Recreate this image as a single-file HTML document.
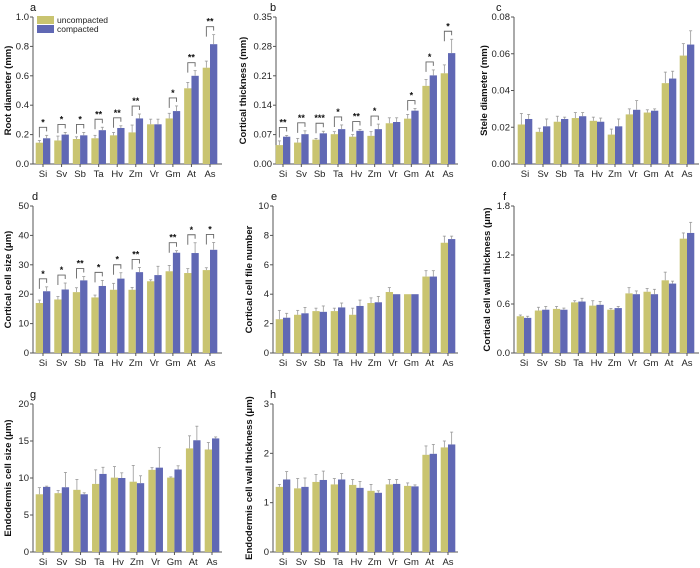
<!DOCTYPE html>
<html><head><meta charset="utf-8"><style>
html,body{margin:0;padding:0;background:#fff;}
svg{display:block;font-family:"Liberation Sans",sans-serif;}
</style></head><body>
<svg id="fig" width="700" height="568" viewBox="0 0 700 568" xmlns="http://www.w3.org/2000/svg"></svg>
<script>
const categories = ["Si","Sv","Sb","Ta","Hv","Zm","Vr","Gm","At","As"];

const aUnc = [.145,.16,.17,.175,.195,.215,.27,.31,.515,.655];
const aComp = [.175,.2,.195,.23,.245,.31,.27,.36,.6,.815];
const aUncErr = [.015,.03,.015,.02,.02,.05,.035,.035,.04,.045];
const aCompErr = [.02,.015,.02,.02,.015,.03,.035,.035,.035,.065];
const aSig = ["*","*","*","**","**","**","","*","**","**"];
const aTicks = ["0.0","0.2","0.4","0.6","0.8","1.0"];

const bUnc = [.045,.051,.058,.071,.065,.067,.097,.108,.186,.216];
const bComp = [.065,.071,.073,.083,.079,.083,.1,.127,.211,.264];
const bUncErr = [.01,.01,.003,.006,.005,.01,.013,.01,.015,.02];
const bCompErr = [.003,.008,.005,.01,.003,.012,.01,.005,.013,.033];
const bSig = ["**","**","***","*","**","*","","*","*","*"];
const bTicks = ["0.00","0.07","0.14","0.21","0.28","0.35"];

const cUnc = [.0215,.0175,.023,.025,.0235,.016,.027,.028,.044,.059];
const cComp = [.0245,.0205,.0245,.026,.023,.0205,.0295,.029,.0465,.065];
const cUncErr = [.006,.002,.003,.003,.002,.003,.003,.0015,.006,.0065];
const cCompErr = [.0025,.004,.001,.002,.002,.004,.005,.001,.004,.0075];
const cSig = ["","","","","","","","","",""];
const cTicks = ["0.00","0.02","0.04","0.06","0.08"];

const dUnc = [17,18.2,20.7,18.9,21.5,21.5,24.4,27.8,27.2,28.2];
const dComp = [21,21.6,24.7,22.8,25.3,27.5,26.5,34.1,34,35.1];
const dUncErr = [1,1,1.5,.8,2.2,.8,.5,2,1.5,.8];
const dCompErr = [1.5,2.2,1.3,1.9,2,1.6,3,.7,3.5,2.5];
const dSig = ["*","*","**","*","*","**","","**","*","*"];
const dTicks = ["0","10","20","30","40","50"];

const eUnc = [2.3,2.6,2.85,2.85,2.6,3.4,4.15,4,5.2,7.5];
const eComp = [2.4,2.7,2.8,3.1,3.2,3.45,4,4,5.2,7.75];
const eUncErr = [.6,.3,.2,.2,.45,.35,.3,0,.4,.45];
const eCompErr = [.3,.4,.4,.3,.4,.4,0,0,.4,.2];
const eSig = ["","","","","","","","","",""];
const eTicks = ["0","2","4","6","8","10"];

const fUnc = [.45,.52,.54,.62,.58,.53,.73,.75,.89,1.4];
const fComp = [.43,.53,.53,.63,.59,.55,.72,.72,.85,1.47];
const fUncErr = [.015,.04,.03,.02,.06,.015,.07,.04,.1,.07];
const fCompErr = [.02,.04,.02,.04,.04,.02,.04,.06,.03,.13];
const fSig = ["","","","","","","","","",""];
const fTicks = ["0.0","0.6","1.2","1.8"];

const gUnc = [7.8,7.95,8.4,9.2,10.05,9.5,11.1,10.05,14,13.85];
const gComp = [8.8,8.75,7.8,10.55,10,9.3,11.4,11.15,15.1,15.35];
const gUncErr = [.9,.35,1.4,1.9,1.5,2.2,.3,.1,1.7,.95];
const gCompErr = [.1,2,.2,.9,.7,1,2.7,.5,1.9,.2];
const gSig = ["","","","","","","","","",""];
const gTicks = ["0","5","10","15","20"];

const hUnc = [1.32,1.29,1.42,1.37,1.36,1.24,1.37,1.34,1.97,2.12];
const hComp = [1.47,1.32,1.46,1.47,1.3,1.2,1.38,1.33,1.99,2.18];
const hUncErr = [.05,.2,.15,.12,.11,.13,.1,.06,.18,.13];
const hCompErr = [.16,.18,.18,.12,.13,.04,.09,.03,.19,.25];
const hSig = ["","","","","","","","","",""];
const hTicks = ["0","1","2","3"];

const NS = "http://www.w3.org/2000/svg";
const svg = document.getElementById("fig");
const YEL = "#c9c470", BLU = "#6068b4";

function mk(tag, attrs, parent, text) {
  const e = document.createElementNS(NS, tag);
  for (const k in attrs) e.setAttribute(k, attrs[k]);
  if (text !== undefined) e.textContent = text;
  (parent || svg).appendChild(e);
  return e;
}

function panel(p) {
  const g = mk("g", {});
  
  
  const ticks = p.ticks.map(Number);
  const ymax = ticks[ticks.length - 1];
  const y = v => p.y0 - (v / ymax) * (p.y0 - p.y1);
  const step = (p.xl - p.xf) / (categories.length - 1);
  const x = i => p.xf + i * step;
  const bw = 7.3;
  // axes
  const ya = mk("line", {x1: p.ax, x2: p.ax, y1: p.y1, y2: p.y0, stroke: "#555", "stroke-width": 1}, g);
  
  
  const xa = mk("line", {x1: p.ax, x2: p.xe, y1: p.y0, y2: p.y0, stroke: "#555", "stroke-width": 1}, g);
  
  
  p.ticks.forEach((t, k) => {
    const yy = y(ticks[k]);
    mk("line", {x1: p.ax - 3, x2: p.ax, y1: yy, y2: yy, stroke: "#555"}, g);
    const tl = mk("text", {x: p.ax - 4, y: yy + 3, "text-anchor": "end", "font-size": 9.5, fill: "#222"}, g, t);
    
    
  });
  // title
  const tx = p.tx, ty = (p.y0 + p.y1) / 2;
  const tt = mk("text", {x: tx, y: ty, transform: `rotate(-90 ${tx} ${ty})`, "text-anchor": "middle", "font-size": 9.5, "font-weight": "bold", fill: "#111"}, g, p.title);
  
  
  const lt = mk("text", {x: p.lx, y: p.y1 - 6, "font-size": 11, fill: "#111"}, g, p.letter);
  
  
  categories.forEach((c, i) => {
    const cx = x(i);
    mk("line", {x1: cx, x2: cx, y1: p.y0, y2: p.y0 + 3, stroke: "#555"}, g);
    const cl = mk("text", {x: cx, y: p.y0 + 13, "text-anchor": "middle", "font-size": 9.5, fill: "#222"}, g, c);
    
    
    const series = [[p.unc, p.ue, YEL, -bw, 'uncompacted'], [p.comp, p.ce, BLU, 0, 'compacted']];
    series.forEach(s => {
      const v = s[0][i], e = s[1][i];
      const bx = cx + s[3];
      const b = mk("rect", {x: bx, y: y(v), width: bw, height: p.y0 - y(v), fill: s[2]}, g);
      
      
      if (e > 0) {
        const mx = bx + bw / 2;
        mk("line", {x1: mx, x2: mx, y1: y(v), y2: y(v + e), stroke: "#999", "stroke-width": 0.8}, g);
        mk("line", {x1: mx - 1.5, x2: mx + 1.5, y1: y(v + e), y2: y(v + e), stroke: "#999", "stroke-width": 0.8}, g);
      }
    });
    const sg = p.sig[i];
    if (sg) {
      const top = Math.min(y(p.unc[i] + p.ue[i]), y(p.comp[i] + p.ce[i]));
      const by = top - 8;
      const lx = cx - bw / 2, rx = cx + bw / 2;
      const br = mk("path", {d: `M${lx},${Math.min(y(p.unc[i] + p.ue[i]) - 3, by + 10)} L${lx},${by} L${rx},${by} L${rx},${by + 4}`, fill: "none", stroke: "#666", "stroke-width": 0.9}, g);
      
      
      const st = mk("text", {x: cx, y: by - 2, "text-anchor": "middle", "font-size": 9, "font-weight": "bold", fill: "#111"}, g, sg);
      
      
    }
  });
}

const r1 = {y1: 17, y0: 164}, r2 = {y1: 206, y0: 353}, r3 = {y1: 404, y0: 552};
panel(Object.assign({letter: "a", ax: 33, xf: 43, xl: 210, xe: 222, tx: 11, lx: 30, title: "Root diameter (mm)", unc: aUnc, comp: aComp, ue: aUncErr, ce: aCompErr, sig: aSig, ticks: aTicks}, r1));
panel(Object.assign({letter: "b", ax: 276, xf: 283, xl: 448, xe: 458, tx: 246, lx: 270, title: "Cortical thickness (mm)", unc: bUnc, comp: bComp, ue: bUncErr, ce: bCompErr, sig: bSig, ticks: bTicks}, r1));
panel(Object.assign({letter: "c", ax: 514, xf: 525, xl: 687, xe: 699, tx: 487, lx: 496, title: "Stele diameter (mm)", unc: cUnc, comp: cComp, ue: cUncErr, ce: cCompErr, sig: cSig, ticks: cTicks}, r1));
panel(Object.assign({letter: "d", ax: 33, xf: 43, xl: 210, xe: 222, tx: 11, lx: 32, title: "Cortical cell size (\u03bcm)", unc: dUnc, comp: dComp, ue: dUncErr, ce: dCompErr, sig: dSig, ticks: dTicks}, r2));
panel(Object.assign({letter: "e", ax: 273, xf: 283, xl: 448, xe: 458, tx: 252, lx: 271, title: "Cortical cell file number", unc: eUnc, comp: eComp, ue: eUncErr, ce: eCompErr, sig: eSig, ticks: eTicks}, r2));
panel(Object.assign({letter: "f", ax: 514, xf: 524, xl: 687, xe: 699, tx: 490, lx: 503, title: "Cortical cell wall thickness (\u03bcm)", unc: fUnc, comp: fComp, ue: fUncErr, ce: fCompErr, sig: fSig, ticks: fTicks}, r2));
panel(Object.assign({letter: "g", ax: 33, xf: 43, xl: 212, xe: 222, tx: 11, lx: 30, title: "Endodermis cell size (\u03bcm)", unc: gUnc, comp: gComp, ue: gUncErr, ce: gCompErr, sig: gSig, ticks: gTicks}, r3));
panel(Object.assign({letter: "h", ax: 273, xf: 283, xl: 448, xe: 458, tx: 252, lx: 270, title: "Endodermis cell wall thickness (\u03bcm)", unc: hUnc, comp: hComp, ue: hUncErr, ce: hCompErr, sig: hSig, ticks: hTicks}, r3));

// legend
const lg = mk("g", {});


const s1 = mk("rect", {x: 37, y: 16, width: 17, height: 8, fill: YEL}, lg);


const t1 = mk("text", {x: 57, y: 23, "font-size": 8.5, fill: "#222"}, lg, "uncompacted");


const s2 = mk("rect", {x: 37, y: 25, width: 17, height: 8, fill: BLU}, lg);


const t2 = mk("text", {x: 57, y: 32, "font-size": 8.5, fill: "#222"}, lg, "compacted");


</script>
</body></html>
